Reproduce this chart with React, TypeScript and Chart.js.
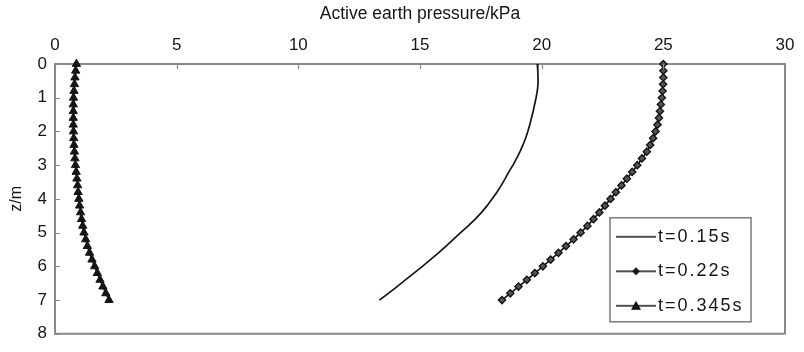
import { useEffect, useRef } from 'react';
import { Chart, registerables } from 'chart.js';

Chart.register(...registerables);

// depth below surface (m)
const depths = [0, 0.2, 0.4, 0.6, 0.8, 1.0, 1.2, 1.4, 1.6, 1.8, 2.0, 2.2, 2.4, 2.6, 2.8, 3.0, 3.2, 3.4, 3.6, 3.8, 4.0, 4.2, 4.4, 4.6, 4.8, 5.0, 5.2, 5.4, 5.6, 5.8, 6.0, 6.2, 6.4, 6.6, 6.8, 7.0];

// active earth pressure (kPa)
const pressureT015 = [19.82, 19.84, 19.85, 19.85, 19.82, 19.77, 19.71, 19.65, 19.58, 19.51, 19.43, 19.34, 19.23, 19.11, 18.97, 18.82, 18.65, 18.5, 18.34, 18.16, 17.96, 17.76, 17.53, 17.27, 16.98, 16.67, 16.37, 16.07, 15.76, 15.43, 15.1, 14.75, 14.4, 14.06, 13.7, 13.33];
const pressureT022 = [25.0, 25.0, 25.0, 24.99, 24.97, 24.94, 24.9, 24.86, 24.82, 24.76, 24.68, 24.58, 24.46, 24.32, 24.12, 23.93, 23.72, 23.5, 23.28, 23.05, 22.83, 22.6, 22.37, 22.13, 21.88, 21.6, 21.31, 21.0, 20.69, 20.37, 20.05, 19.72, 19.39, 19.05, 18.71, 18.37];
const pressureT0345 = [0.88, 0.85, 0.82, 0.8, 0.78, 0.76, 0.75, 0.75, 0.75, 0.75, 0.76, 0.77, 0.78, 0.8, 0.82, 0.84, 0.87, 0.9, 0.93, 0.95, 0.98, 1.01, 1.05, 1.09, 1.14, 1.19, 1.26, 1.33, 1.42, 1.52, 1.63, 1.74, 1.85, 1.97, 2.09, 2.22];

const seriesLabels = ['t=0.15s', 't=0.22s', 't=0.345s'];
const xTitle = 'Active earth pressure/kPa';
const yTitle = 'z/m';

const FONT = "'Liberation Sans', Arial, sans-serif";
const INK = '#151515';
const AXIS = '#8a8a8a';

function makeIcon(kind: 'none' | 'diamond' | 'triangle'): HTMLCanvasElement {
  const c = document.createElement('canvas');
  c.width = 40;
  c.height = 12;
  const g = c.getContext('2d')!;
  g.strokeStyle = INK;
  g.fillStyle = INK;
  g.lineWidth = 1.6;
  g.beginPath();
  g.moveTo(0, 6);
  g.lineTo(40, 6);
  g.stroke();
  if (kind === 'diamond') {
    g.beginPath();
    g.moveTo(20, 2);
    g.lineTo(24, 6);
    g.lineTo(20, 10);
    g.lineTo(16, 6);
    g.closePath();
    g.fill();
  } else if (kind === 'triangle') {
    g.beginPath();
    g.moveTo(20, 1);
    g.lineTo(25, 10);
    g.lineTo(15, 10);
    g.closePath();
    g.fill();
  }
  return c;
}

export default function App() {
  const ref = useRef<HTMLCanvasElement | null>(null);

  useEffect(() => {
    if (!ref.current) return;
    const icons = [makeIcon('none'), makeIcon('diamond'), makeIcon('triangle')];

    const toPoints = (vals: number[]) => depths.map((z, i) => ({ x: vals[i], y: z }));

    const framePlugin = {
      id: 'framePlugin',
      afterLayout(chart: any) {
        const lg = chart.legend;
        const a = chart.chartArea;
        if (!lg) return;
        lg.left = a.right - 178.5;
        lg.top = a.bottom - 122.5;
        lg.right = a.right + 15;
        lg.bottom = a.bottom + 60;
        lg.width = lg.right - lg.left;
        lg.height = lg.bottom - lg.top;
        if (!lg._spaced) {
          const orig = lg.draw.bind(lg);
          lg.draw = (area: any) => {
            const ctx = chart.ctx;
            ctx.save();
            (ctx as any).letterSpacing = '2px';
            orig(area);
            ctx.restore();
          };
          lg._spaced = true;
        }
      },
      afterDraw(chart: any) {
        const { ctx, chartArea: a, scales } = chart;
        const xs = scales.x;
        const ys = scales.y;
        ctx.save();
        ctx.strokeStyle = AXIS;
        ctx.lineWidth = 2;
        ctx.beginPath();
        ctx.moveTo(a.right, a.top - 1);
        ctx.lineTo(a.right, a.bottom);
        ctx.lineTo(a.left - 1, a.bottom);
        ctx.stroke();
        // inward tick marks
        ctx.lineWidth = 1.2;
        ctx.beginPath();
        xs.ticks.forEach((t: any) => {
          const px = Math.round(xs.getPixelForValue(t.value)) + 0.5;
          ctx.moveTo(px, a.top);
          ctx.lineTo(px, a.top + 5);
        });
        ys.ticks.forEach((t: any) => {
          const py = Math.round(ys.getPixelForValue(t.value)) + 0.5;
          ctx.moveTo(a.left, py);
          ctx.lineTo(a.left + 5, py);
        });
        ctx.stroke();
        // legend frame
        ctx.lineWidth = 1.5;
        ctx.strokeStyle = '#7a7a7a';
        ctx.strokeRect(a.right - 175, a.bottom - 116, 141, 104);
        ctx.restore();
      },
    };

    const chart = new Chart(ref.current, {
      type: 'line',
      data: {
        datasets: [
          {
            label: seriesLabels[0],
            data: toPoints(pressureT015),
            borderColor: INK,
            borderWidth: 1.7,
            pointRadius: 0,
            tension: 0,
            clip: false,
          },
          {
            label: seriesLabels[1],
            data: toPoints(pressureT022),
            borderColor: INK,
            borderWidth: 1.7,
            pointStyle: 'rectRot',
            pointRadius: 3.6,
            pointBorderWidth: 1.4,
            pointBorderColor: INK,
            pointBackgroundColor: '#555555',
            tension: 0,
            clip: false,
          },
          {
            label: seriesLabels[2],
            data: toPoints(pressureT0345),
            borderColor: INK,
            borderWidth: 1.7,
            pointStyle: 'triangle',
            pointRadius: 4.8,
            pointBorderWidth: 1,
            pointBorderColor: INK,
            pointBackgroundColor: INK,
            tension: 0,
            clip: false,
          },
        ],
      } as any,
      options: {
        animation: false,
        responsive: true,
        maintainAspectRatio: false,
        layout: { padding: { top: 0, left: 0, right: 19, bottom: 7 } },
        plugins: {
          tooltip: { enabled: false },
          legend: {
            position: 'chartArea' as any,
            fullSize: false,
            align: 'start',
            labels: {
              usePointStyle: true,
              pointStyleWidth: 26,
              padding: 16.5,
              color: INK,
              font: { family: FONT, size: 18 },
              generateLabels: (ch: any) =>
                ch.data.datasets.map((ds: any, i: number) => ({
                  text: ds.label,
                  pointStyle: icons[i],
                  fillStyle: INK,
                  strokeStyle: INK,
                  lineWidth: 0,
                  hidden: false,
                  datasetIndex: i,
                  fontColor: INK,
                })),
            },
          },
        },
        scales: {
          x: {
            type: 'linear',
            position: 'top',
            min: 0,
            max: 30,
            ticks: { stepSize: 5, padding: 8, color: INK, font: { family: FONT, size: 17 } },
            grid: { display: false, drawTicks: false },
            border: { display: true, color: AXIS, width: 2 },
            title: { display: true, text: xTitle, color: INK, font: { family: FONT, size: 17.5 }, padding: { top: 4, bottom: 0 } },
            afterFit: (s: any) => { s.height = 64; },
          },
          y: {
            type: 'linear',
            position: 'left',
            reverse: true,
            min: 0,
            max: 8,
            ticks: { stepSize: 1, padding: 8, color: INK, font: { family: FONT, size: 17 } },
            grid: { display: false, drawTicks: false },
            border: { display: true, color: AXIS, width: 2 },
            title: { display: true, text: yTitle, color: INK, font: { family: FONT, size: 16 }, padding: { top: 7, bottom: 0 } },
            afterFit: (s: any) => { s.width = 55; },
          },
        },
      } as any,
      plugins: [framePlugin],
    });

    return () => chart.destroy();
  }, []);

  return (
    <div style={{ position: 'absolute', left: 0, top: 0, width: 804, height: 352, background: '#fff' }}>
      <canvas ref={ref} />
    </div>
  );
}
